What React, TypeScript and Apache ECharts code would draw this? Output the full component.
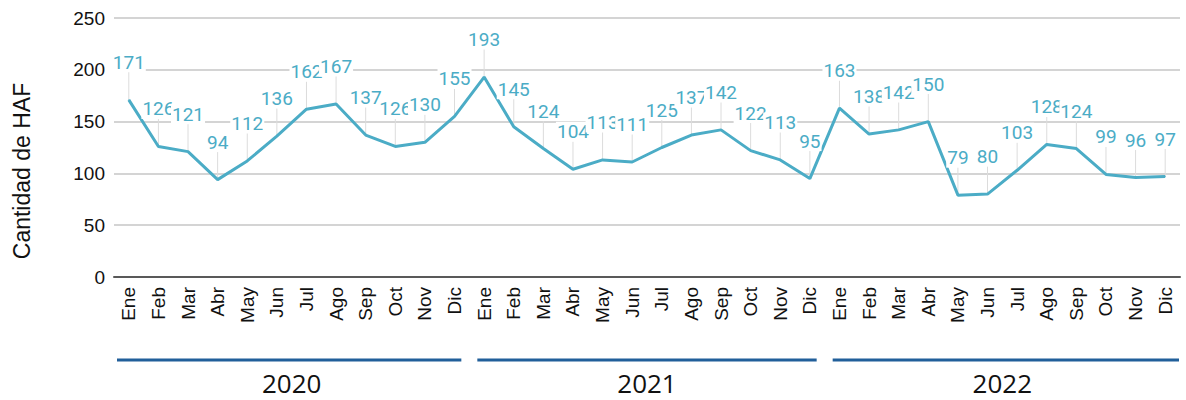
import React, { useEffect, useRef } from "react";
import * as echarts from "echarts";

const months = ["Ene", "Feb", "Mar", "Abr", "May", "Jun", "Jul", "Ago", "Sep", "Oct", "Nov", "Dic"];
const years = ["2020", "2021", "2022"];
const values2020 = [171, 126, 121, 94, 112, 136, 162, 167, 137, 126, 130, 155];
const values2021 = [193, 145, 124, 104, 113, 111, 125, 137, 142, 122, 113, 95];
const values2022 = [163, 138, 142, 150, 79, 80, 103, 128, 124, 99, 96, 97];
const yTicks = { min: 0, max: 250, interval: 50 };
const yTitle = "Cantidad de HAF";

const categories = years.flatMap(() => months);
const values = [...values2020, ...values2021, ...values2022];

const LINE_COLOR = "#4BACC6";
const YEAR_LINE_COLOR = "#215F9A";

export default function App() {
  const ref = useRef<HTMLDivElement>(null);
  useEffect(() => {
    document.body.style.margin = "0";
    if (!ref.current) return;
    const chart = echarts.init(ref.current, undefined, { renderer: "svg" });
    const titleGraphic = {
      type: "text",
      x: 22,
      y: 171,
      rotation: Math.PI / 2,
      style: {
        text: yTitle,
        fill: "#111",
        font: "23px 'Liberation Sans', Arial, sans-serif",
        textAlign: "center",
        textVerticalAlign: "middle",
      },
    };
    chart.setOption({
      animation: false,
      grid: { left: 114, right: 6, top: 18, bottom: 123, containLabel: false },
      xAxis: {
        type: "category",
        data: categories,
        boundaryGap: true,
        axisLine: { show: true, lineStyle: { color: "#595959", width: 2 } },
        axisTick: { show: false },
        axisLabel: {
          rotate: 90,
          interval: 0,
          margin: 10,
          color: "#111",
          fontSize: 19,
          fontFamily: "Liberation Sans, Arial, sans-serif",
        },
      },
      yAxis: {
        type: "value",
        min: yTicks.min,
        max: yTicks.max,
        interval: yTicks.interval,
        axisLine: { show: false },
        axisTick: { show: false },
        splitLine: { lineStyle: { color: "#d4d4d4", width: 2 } },
        axisLabel: {
          margin: 9,
          color: "#111",
          fontSize: 19,
          fontFamily: "Liberation Sans, Arial, sans-serif",
        },
      },
      series: [
        {
          type: "custom",
          z: 1,
          silent: true,
          data: values.map((v, i) => [i, v]),
          renderItem: (params: any, api: any) => {
            const p = api.coord([api.value(0), api.value(1)]);
            return {
              type: "line",
              shape: { x1: p[0], y1: p[1], x2: p[0], y2: p[1] - 28 },
              style: { stroke: "#dcdcdc", lineWidth: 1 },
            };
          },
        },
        {
          type: "line",
          z: 3,
          data: values,
          symbol: "circle",
          symbolSize: 1,
          itemStyle: { color: LINE_COLOR },
          lineStyle: { color: LINE_COLOR, width: 3 },
          label: {
            show: true,
            position: "top",
            distance: 27,
            color: LINE_COLOR,
            fontSize: 19,
            lineHeight: 20,
            fontFamily: "Roboto, sans-serif",
            backgroundColor: "#ffffff",
            padding: [0, 1],
          },
        },
      ],
      graphic: [titleGraphic],
    });

    const c0 = chart.convertToPixel({ xAxisIndex: 0 }, 0) as number;
    const c1 = chart.convertToPixel({ xAxisIndex: 0 }, 1) as number;
    const half = (c1 - c0) / 2;
    const yearMarks: any[] = [];
    years.forEach((year, k) => {
      const first = chart.convertToPixel({ xAxisIndex: 0 }, k * 12) as number;
      const last = chart.convertToPixel({ xAxisIndex: 0 }, k * 12 + 11) as number;
      const x1 = first - half + (k === 0 ? 3 : 8);
      const x2 = last + half - (k === years.length - 1 ? 1 : 8);
      yearMarks.push({
        type: "line",
        shape: { x1, y1: 360, x2, y2: 360 },
        style: { stroke: YEAR_LINE_COLOR, lineWidth: 3 },
      });
      yearMarks.push({
        type: "text",
        x: (first + last) / 2,
        y: 383,
        style: {
          text: year,
          fill: "#111",
          font: "26px 'Open Sans', sans-serif",
          textAlign: "center",
          textVerticalAlign: "middle",
        },
      });
    });
    chart.setOption({ graphic: [titleGraphic, ...yearMarks] });

    return () => chart.dispose();
  }, []);
  return <div ref={ref} style={{ width: 1186, height: 400 }} />;
}
